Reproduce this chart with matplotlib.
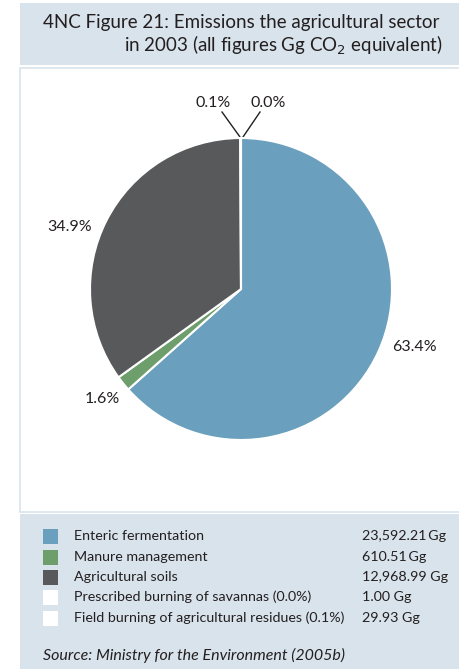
import matplotlib.pyplot as plt
from matplotlib.patches import Rectangle

# data
categories = ['Enteric fermentation', 'Manure management', 'Agricultural soils',
              'Prescribed burning of savannas (0.0%)',
              'Field burning of agricultural residues (0.1%)']
values = [23592.21, 610.51, 12968.99, 1.00, 29.93]
value_labels = ['23,592.21\u2009Gg', '610.51\u2009Gg', '12,968.99 Gg', '1.00 Gg', '29.93 Gg']
colors = ['#6a9fbd', '#6e9e6b', '#58595b', '#ffffff', '#ffffff']

plt.rcParams['font.family'] = ['Lato', 'DejaVu Sans']

W, H = 459, 669
fig = plt.figure(figsize=(W / 100, H / 100), dpi=100)

def px(x, y, w, h):
    # pixel box (top-left origin) -> figure fraction
    return (x / W, 1 - (y + h) / H, w / W, h / H)

def box(x, y, w, h, **kw):
    fig.patches.append(Rectangle(px(x, y, w, h)[:2], w / W, h / H,
                                 transform=fig.transFigure, zorder=-1, **kw))

panel = '#d9e3ec'
box(20, 3, 439, 62, facecolor=panel, edgecolor='none')
box(20, 68, 445, 444, facecolor='white', edgecolor=panel, linewidth=1.2)
box(20, 514, 439, 160, facecolor=panel, edgecolor='none')

# header
fig.text(43 / W, 1 - 28 / H, '4NC Figure 21: Emissions the agricultural sector',
         fontsize=13.5, ha='left', va='baseline', color='#231f20')
fig.text(443 / W, 1 - 52 / H, 'in 2003 (all figures Gg CO$_2$ equivalent)',
         fontsize=13.5, ha='right', va='baseline', color='#231f20')

# pie: order so the tiny slices sit either side of the top
order = [3, 0, 1, 2, 4]
cx, cy, r = 241, 289, 151
ax = fig.add_axes(px(cx - r, cy - r, 2 * r, 2 * r))
ax.set_zorder(2)
ax.pie([values[i] for i in order], colors=[colors[i] for i in order],
       startangle=90, counterclock=False,
       wedgeprops=dict(edgecolor='white', linewidth=1.5))
ax.set_xlim(-1, 1)
ax.set_ylim(-1, 1)
ax.set_aspect('equal')
ax.axis('off')

total = sum(values)
pct = [v / total * 100 for v in values]
lab_pos = {0: (414, 347), 1: (102, 399), 2: (70, 227), 3: (268, 103), 4: (213, 103)}
for i, (x, y) in lab_pos.items():
    fig.text(x / W, 1 - y / H, f'{pct[i]:.1f}%', fontsize=11.5, ha='center', va='center',
             color='#231f20')

# leader lines for tiny slices
fig.add_artist(plt.Line2D([222 / W, 240 / W], [1 - 112 / H, 1 - 137 / H],
                          transform=fig.transFigure, color='#231f20', lw=1))
fig.add_artist(plt.Line2D([260 / W, 243 / W], [1 - 112 / H, 1 - 137 / H],
                          transform=fig.transFigure, color='#231f20', lw=1))

# legend
rows = [536, 557, 577, 597, 618]
for cat, val, col, y in zip(categories, value_labels, colors, rows):
    box(43, y - 7.5, 15, 15, facecolor=col, edgecolor='none')
    fig.text(74 / W, 1 - y / H, cat, fontsize=10.3, ha='left', va='center', color='#231f20')
    fig.text(362 / W, 1 - y / H, val, fontsize=10.3, ha='left', va='center', color='#231f20')

fig.text(43 / W, 1 - 655 / H, 'Source: Ministry for the Environment (2005b)',
         fontsize=11.5, style='italic', ha='left', va='center', color='#231f20')

fig.savefig('out.png', dpi=100)
